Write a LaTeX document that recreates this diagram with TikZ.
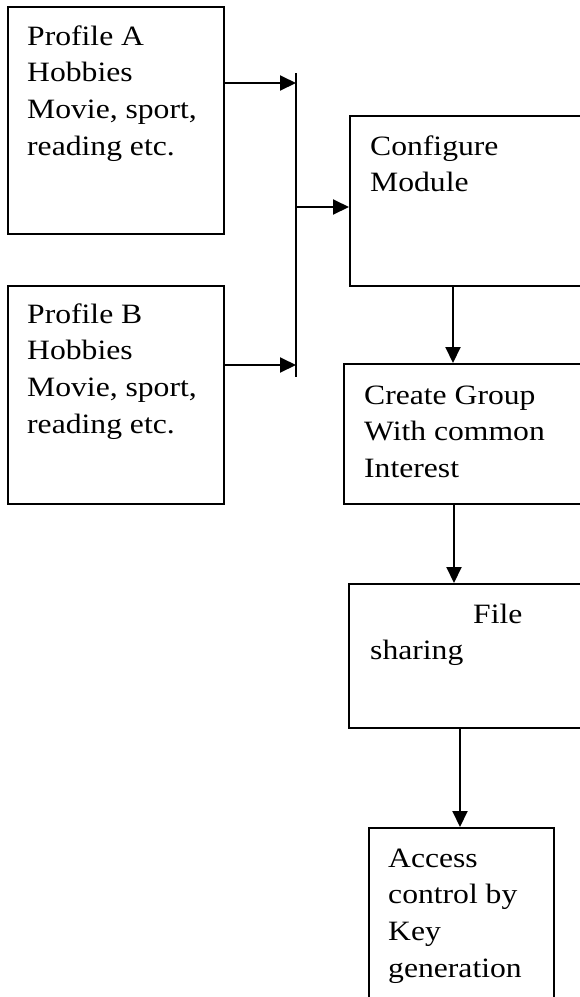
\documentclass[tikz,border=0pt]{standalone}
\usepackage{fontspec}
\setmainfont[FakeStretch=1.13]{Liberation Serif}
\usetikzlibrary{arrows.meta}
\newcommand{\dfs}{\fontsize{28}{36.7}\selectfont}
\tikzset{
  box/.style={draw, line width=2pt, inner sep=0pt, anchor=north west},
  txt/.style={inner sep=0pt, anchor=north west, align=left, font=\dfs},
  arr/.style={-{Triangle[length=16pt,width=15pt]}, line width=2pt},
  barline/.style={line width=1.8pt}
}
\begin{document}
\begin{tikzpicture}[x=1pt,y=-1pt]
\useasboundingbox (0,0) rectangle (580,997);
\clip (0,0) rectangle (580,997);
% boxes
\node[box, minimum width=216pt, minimum height=227pt] (pa) at (7,6) {};
\node[box, minimum width=216pt, minimum height=218pt] (pb) at (7,285) {};
\node[box, minimum width=250pt, minimum height=170pt] (cfg) at (349,115) {};
\node[box, minimum width=250pt, minimum height=140pt] (cg) at (343,363) {};
\node[box, minimum width=250pt, minimum height=144pt] (fs) at (348,583) {};
\node[box, minimum width=185pt, minimum height=200pt] (ac) at (368,827) {};
% texts
\node[txt] (paT) at (27,19.3) {\strut Profile A\\Hobbies\\Movie, sport,\\reading etc.};
\node[txt] (pbT) at (27,297.3) {\strut Profile B\\Hobbies\\Movie, sport,\\reading etc.};
\node[txt] (cfgT) at (370,129.3) {\strut Configure\\Module};
\node[txt] (cgT) at (364,378.3) {\strut Create Group\\With common\\Interest};
\node[txt] (fsT) at (370,597.3) {\strut\hspace*{103pt}File\\sharing};
\node[txt] (acT) at (388,841.3) {\strut Access\\control by\\Key\\generation};
% junction bar
\coordinate (bt) at (296,73);
\coordinate (bb) at (296,377);
\coordinate (ja) at (296,83);
\coordinate (jb) at (296,365);
\coordinate (jc) at (296,207);
\draw[barline] (bt) -- (bb);
\draw[arr] (pa.east |- ja) -- (ja);
\draw[arr] (pb.east |- jb) -- (jb);
\draw[arr] (jc) -- (cfg.west |- jc);
% vertical flow
\coordinate (c1) at (453,0);
\coordinate (c2) at (454,0);
\coordinate (c3) at (460,0);
\draw[arr] (cfg.south -| c1) -- (cg.north -| c1);
\draw[arr] (cg.south -| c2) -- (fs.north -| c2);
\draw[arr] (fs.south -| c3) -- (ac.north -| c3);
\end{tikzpicture}
\end{document}
